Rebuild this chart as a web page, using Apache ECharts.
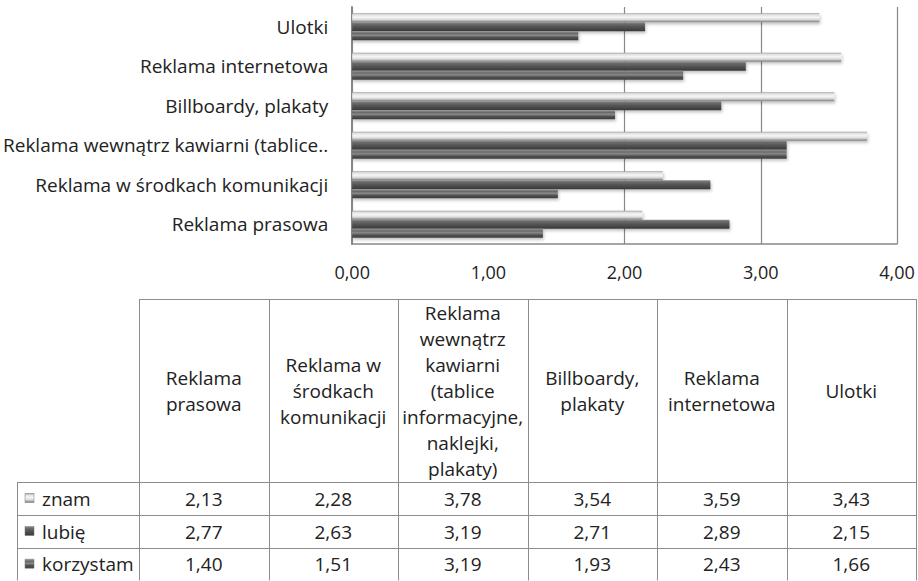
<!DOCTYPE html>
<html>
<head>
<meta charset="utf-8">
<script src="https://cdn.jsdelivr.net/npm/echarts@6/dist/echarts.min.js"></script>
<style>
html,body{margin:0;padding:0;background:#fff;}
#chart{width:918px;height:581px;}
</style>
</head>
<body>
<div id="chart"></div>
<script>
// ---- data ----
var categories = [
  'Reklama prasowa',
  'Reklama w środkach komunikacji',
  'Reklama wewnątrz kawiarni (tablice informacyjne, naklejki, plakaty)',
  'Billboardy, plakaty',
  'Reklama internetowa',
  'Ulotki'
];
var tableHeaders = [
  'Reklama\nprasowa',
  'Reklama w\nśrodkach\nkomunikacji',
  'Reklama\nwewnątrz\nkawiarni\n(tablice\ninformacyjne,\nnaklejki,\nplakaty)',
  'Billboardy,\nplakaty',
  'Reklama\ninternetowa',
  'Ulotki'
];
var seriesNames = ['znam', 'lubię', 'korzystam'];
var znam      = [2.13, 2.28, 3.78, 3.54, 3.59, 3.43];
var lubie     = [2.77, 2.63, 3.19, 2.71, 2.89, 2.15];
var korzystam = [1.40, 1.51, 3.19, 1.93, 2.43, 1.66];
var xTicks = [0, 1, 2, 3, 4];

var seriesData = [znam, lubie, korzystam];

// ---- styles ----
function grad(stops) {
  return new echarts.graphic.LinearGradient(0, 0, 0, 1,
    stops.map(function (s) { return { offset: s[0], color: s[1] }; }));
}
var fills = [
  grad([[0, '#9c9c9c'], [0.15, '#dedede'], [0.45, '#f6f6f6'], [0.72, '#d8d8d8'], [0.88, '#a0a0a0'], [1, '#808080']]),
  grad([[0, '#8e8e8e'], [0.2, '#6a6a6a'], [0.5, '#555555'], [0.8, '#444444'], [1, '#363636']]),
  grad([[0, '#959595'], [0.25, '#6a6a6a'], [0.45, '#8a8a8a'], [0.7, '#505050'], [1, '#3e3e3e']])
];
var FONT = '"Open Sans", sans-serif';
var TXT = '#222';

function fmt(v) { return v.toFixed(2).replace('.', ','); }

var chart = echarts.init(document.getElementById('chart'), null, { renderer: 'svg' });

// ---- data table (graphic) ----
var colX = [17, 139, 268.5, 398, 527.5, 657, 786.5, 916];
var rowY = [299, 482, 515, 548, 580.5];
var LINE = '#8c8c8c';
var g = [];
function hline(x1, x2, y) {
  g.push({ type: 'line', silent: true, shape: { x1: x1, y1: Math.round(y) + 0.5, x2: x2, y2: Math.round(y) + 0.5 }, style: { stroke: LINE, lineWidth: 1 } });
}
function vline(x, y1, y2) {
  g.push({ type: 'line', silent: true, shape: { x1: Math.round(x) + 0.5, y1: y1, x2: Math.round(x) + 0.5, y2: y2 }, style: { stroke: LINE, lineWidth: 1 } });
}
hline(colX[1], colX[7], rowY[0]);
for (var r = 1; r < rowY.length; r++) hline(colX[0], colX[7], rowY[r]);
vline(colX[0], rowY[1], rowY[4]);
for (var c = 1; c < colX.length; c++) vline(colX[c], rowY[0], rowY[4]);

// headers
tableHeaders.forEach(function (h, i) {
  g.push({
    type: 'text', silent: true,
    x: (colX[i + 1] + colX[i + 2]) / 2, y: (rowY[0] + rowY[1]) / 2,
    style: { text: h, font: '19px ' + FONT, fill: TXT, align: 'center', verticalAlign: 'middle', lineHeight: 26 }
  });
});
// rows
seriesNames.forEach(function (name, si) {
  var cy = (rowY[si + 1] + rowY[si + 2]) / 2;
  g.push({ type: 'rect', silent: true, shape: { x: 25, y: cy - 5, width: 9, height: 9 },
    style: { fill: fills[si], stroke: '#777', lineWidth: 0.5 } });
  g.push({ type: 'text', silent: true, x: 42, y: cy,
    style: { text: name, font: '19px ' + FONT, fill: TXT, align: 'left', verticalAlign: 'middle' } });
  seriesData[si].forEach(function (v, ci) {
    g.push({ type: 'text', silent: true, x: (colX[ci + 1] + colX[ci + 2]) / 2, y: cy,
      style: { text: fmt(v), font: '19px ' + FONT, fill: TXT, align: 'center', verticalAlign: 'middle' } });
  });
});

var series = seriesNames.map(function (name, si) {
  return {
    name: name,
    type: 'bar',
    data: seriesData[si],
    barWidth: 9,
    barGap: '0%',
    itemStyle: {
      color: fills[si],
      shadowBlur: 3,
      shadowOffsetX: 1,
      shadowOffsetY: 2,
      shadowColor: 'rgba(0,0,0,0.25)'
    },
    emphasis: { disabled: true }
  };
});

chart.setOption({
  animation: false,
  backgroundColor: '#fff',
  grid: { left: 347, right: 21, top: 7, bottom: 337, containLabel: false },
  xAxis: {
    type: 'value', min: xTicks[0], max: xTicks[xTicks.length - 1], interval: 1,
    axisLine: { show: true, lineStyle: { color: '#888', width: 1.5 } },
    axisTick: { show: false },
    axisLabel: { margin: 19, color: TXT, fontFamily: FONT, fontSize: 18, formatter: function (v) { return fmt(v); } },
    splitLine: { show: true, lineStyle: { color: ['#888', 'rgba(0,0,0,0)', '#888', '#888', '#888'], width: 1.2 } }
  },
  yAxis: {
    type: 'category', data: categories,
    axisLine: { show: true, lineStyle: { color: '#888', width: 2 } },
    axisTick: { show: false },
    axisLabel: {
      margin: 24, color: TXT, fontFamily: FONT, fontSize: 19,
      formatter: function (v) { return v.length > 36 ? v.slice(0, 34) + '..' : v; }
    }
  },
  series: series,
  graphic: g
});
</script>
</body>
</html>
